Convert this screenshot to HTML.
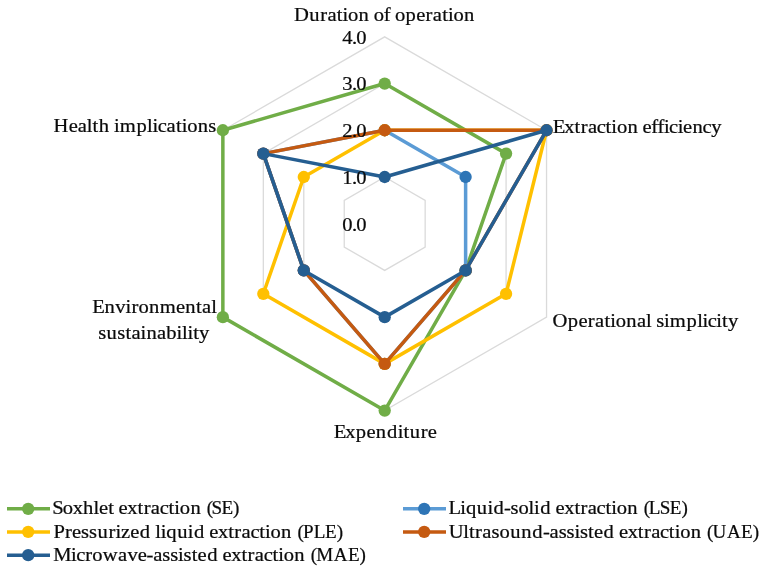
<!DOCTYPE html>
<html lang="en">
<head>
<meta charset="utf-8">
<title>Radar chart of extraction methods</title>
<style>
html,body{margin:0;padding:0;background:#fff;}
body{width:766px;height:569px;overflow:hidden;}
svg{display:block;}
text{font-family:"Liberation Serif",serif;font-size:18.7px;fill:#0a0a0a;stroke:#0a0a0a;stroke-width:0.22px;font-kerning:none;font-variant-ligatures:none;}
</style>
</head>
<body>
<svg width="766" height="569" viewBox="0 0 766 569">
<rect x="0" y="0" width="766" height="569" fill="#ffffff"/>

<g fill="none" stroke="#DADADA" stroke-width="1.3">
<polygon points="384.70,176.98 425.16,200.34 425.16,247.06 384.70,270.42 344.24,247.06 344.24,200.34"/>
<polygon points="384.70,130.26 465.62,176.98 465.62,270.42 384.70,317.14 303.78,270.42 303.78,176.98"/>
<polygon points="384.70,83.54 506.08,153.62 506.08,293.78 384.70,363.86 263.32,293.78 263.32,153.62"/>
<polygon points="384.70,36.82 546.54,130.26 546.54,317.14 384.70,410.58 222.86,317.14 222.86,130.26"/>
</g>
<g>
<polygon points="384.70,83.54 506.08,153.62 465.62,270.42 384.70,410.58 222.86,317.14 222.86,130.26" fill="none" stroke="#70AD47" stroke-width="3.5" stroke-linejoin="round"/>
<circle cx="384.70" cy="83.54" r="6.15" fill="#70AD47"/>
<circle cx="506.08" cy="153.62" r="6.15" fill="#70AD47"/>
<circle cx="465.62" cy="270.42" r="6.15" fill="#70AD47"/>
<circle cx="384.70" cy="410.58" r="6.15" fill="#70AD47"/>
<circle cx="222.86" cy="317.14" r="6.15" fill="#70AD47"/>
<circle cx="222.86" cy="130.26" r="6.15" fill="#70AD47"/>
</g>
<g>
<polygon points="384.70,130.26 465.62,176.98 465.62,270.42 384.70,363.86 303.78,270.42 263.32,153.62" fill="none" stroke="#5B9BD5" stroke-width="3.5" stroke-linejoin="round"/>
<circle cx="384.70" cy="130.26" r="6.15" fill="#2E75B6"/>
<circle cx="465.62" cy="176.98" r="6.15" fill="#2E75B6"/>
<circle cx="465.62" cy="270.42" r="6.15" fill="#2E75B6"/>
<circle cx="384.70" cy="363.86" r="6.15" fill="#2E75B6"/>
<circle cx="303.78" cy="270.42" r="6.15" fill="#2E75B6"/>
<circle cx="263.32" cy="153.62" r="6.15" fill="#2E75B6"/>
</g>
<g>
<polygon points="384.70,130.26 546.54,130.26 506.08,293.78 384.70,363.86 263.32,293.78 303.78,176.98" fill="none" stroke="#FFC000" stroke-width="3.5" stroke-linejoin="round"/>
<circle cx="384.70" cy="130.26" r="6.15" fill="#FFC000"/>
<circle cx="546.54" cy="130.26" r="6.15" fill="#FFC000"/>
<circle cx="506.08" cy="293.78" r="6.15" fill="#FFC000"/>
<circle cx="384.70" cy="363.86" r="6.15" fill="#FFC000"/>
<circle cx="263.32" cy="293.78" r="6.15" fill="#FFC000"/>
<circle cx="303.78" cy="176.98" r="6.15" fill="#FFC000"/>
</g>
<g>
<polygon points="384.70,130.26 546.54,130.26 465.62,270.42 384.70,363.86 303.78,270.42 263.32,153.62" fill="none" stroke="#C55A11" stroke-width="3.5" stroke-linejoin="round"/>
<circle cx="384.70" cy="130.26" r="6.15" fill="#C55A11"/>
<circle cx="546.54" cy="130.26" r="6.15" fill="#C55A11"/>
<circle cx="465.62" cy="270.42" r="6.15" fill="#C55A11"/>
<circle cx="384.70" cy="363.86" r="6.15" fill="#C55A11"/>
<circle cx="303.78" cy="270.42" r="6.15" fill="#C55A11"/>
<circle cx="263.32" cy="153.62" r="6.15" fill="#C55A11"/>
</g>
<g>
<polygon points="384.70,176.98 546.54,130.26 465.62,270.42 384.70,317.14 303.78,270.42 263.32,153.62" fill="none" stroke="#255E91" stroke-width="3.5" stroke-linejoin="round"/>
<circle cx="384.70" cy="176.98" r="6.15" fill="#255E91"/>
<circle cx="546.54" cy="130.26" r="6.15" fill="#255E91"/>
<circle cx="465.62" cy="270.42" r="6.15" fill="#255E91"/>
<circle cx="384.70" cy="317.14" r="6.15" fill="#255E91"/>
<circle cx="303.78" cy="270.42" r="6.15" fill="#255E91"/>
<circle cx="263.32" cy="153.62" r="6.15" fill="#255E91"/>
</g>
<text transform="translate(342.80,43.80) scale(1.1,1)" x="-0.43 8.27 12.30">4.0</text>
<text transform="translate(342.80,90.30) scale(1.1,1)" x="-0.43 8.27 12.30">3.0</text>
<text transform="translate(342.80,137.10) scale(1.1,1)" x="-0.43 8.27 12.30">2.0</text>
<text transform="translate(342.80,183.90) scale(1.1,1)" x="-0.43 8.27 12.30">1.0</text>
<text transform="translate(342.80,230.60) scale(1.1,1)" x="-0.43 8.27 12.30">0.0</text>
<text transform="translate(294.20,20.60) scale(1.1,1)" x="-0.18 13.58 23.61 30.17 38.73 43.97 48.99 58.57 67.96 72.38 81.40 87.13 91.54 101.28 110.97 119.42 125.98 134.54 139.78 144.80 154.38">Duration of operation</text>
<text transform="translate(553.30,132.50) scale(1.1,1)" x="-0.53 10.07 19.30 24.90 31.46 39.47 47.56 52.79 57.82 67.39 76.79 81.16 89.09 94.74 100.55 105.24 113.03 118.01 126.49 135.72 143.68">Extraction efficiency</text>
<text transform="translate(552.70,327.20) scale(1.1,1)" x="-0.08 13.77 23.46 31.91 38.47 47.03 52.27 57.29 66.87 76.57 84.84 89.69 94.11 101.22 106.50 121.70 131.34 136.28 140.97 148.76 153.99 159.40">Operational simplicity</text>
<text transform="translate(334.30,438.20) scale(1.1,1)" x="-0.53 10.07 19.55 29.24 37.72 47.85 57.58 62.82 68.62 78.65 85.03">Expenditure</text>
<text transform="translate(92.90,313.40) scale(1.1,1)" x="-0.53 10.63 20.37 29.71 35.02 41.44 51.01 60.85 75.53 84.01 93.79 99.25 107.51">Environmental</text>
<text transform="translate(98.20,338.70) scale(1.1,1)" x="-0.04 7.64 17.39 24.80 30.25 38.52 43.85 53.56 61.97 71.21 76.15 81.09 86.32 91.73">sustainability</text>
<text transform="translate(53.20,132.10) scale(1.1,1)" x="0.31 14.04 22.34 30.61 35.85 41.47 50.87 55.20 60.49 75.68 85.33 90.27 94.95 102.96 111.53 116.76 121.79 131.36 140.94">Health implications</text>
<line x1="7.0" y1="508.85" x2="50.0" y2="508.85" stroke="#70AD47" stroke-width="3.5"/>
<circle cx="28.2" cy="508.85" r="6.15" fill="#70AD47"/>
<text transform="translate(53.10,514.30) scale(1.1,1)" x="-0.74 8.87 17.88 27.20 36.69 41.67 50.05 55.20 59.57 67.49 76.72 82.32 88.88 96.89 104.98 110.21 115.24 124.81">Soxhlet extraction</text>
<text transform="translate(205.63,514.30) scale(1.02,1)" x="1.11 5.70 15.59 26.92">(SE)</text>
<line x1="7.0" y1="531.95" x2="50.0" y2="531.95" stroke="#FFC000" stroke-width="3.5"/>
<circle cx="28.2" cy="531.95" r="6.15" fill="#FFC000"/>
<text transform="translate(53.50,537.70) scale(1.1,1)" x="-0.07 10.49 16.87 25.05 32.24 39.92 49.95 56.29 61.45 69.76 78.48 88.13 92.46 97.40 102.54 112.41 122.08 127.65 137.30 141.67 149.59 158.81 164.42 170.97 178.99 187.07 192.31 197.33 206.91">Pressurized liquid extraction</text>
<text transform="translate(296.34,537.70) scale(1.02,1)" x="1.11 6.42 17.03 28.21 39.55">(PLE)</text>
<line x1="7.0" y1="555.15" x2="50.0" y2="555.15" stroke="#255E91" stroke-width="3.5"/>
<circle cx="28.2" cy="555.15" r="6.15" fill="#255E91"/>
<text transform="translate(53.50,561.00) scale(1.1,1)" x="-0.29 15.93 20.61 28.77 35.19 44.83 58.75 67.26 76.65 84.58 90.61 98.96 106.16 113.27 118.29 125.70 130.98 139.70 149.35 153.72 161.64 170.86 176.47 183.03 191.04 199.12 204.36 209.39 218.96">Microwave-assisted extraction</text>
<text transform="translate(309.60,561.00) scale(1.02,1)" x="1.11 6.44 23.78 37.53 48.87">(MAE)</text>
<line x1="403.0" y1="508.85" x2="446.0" y2="508.85" stroke="#5B9BD5" stroke-width="3.5"/>
<circle cx="424.2" cy="508.85" r="6.15" fill="#2E75B6"/>
<text transform="translate(449.00,514.30) scale(1.1,1)" x="-0.53 10.24 15.39 25.26 34.92 40.50 50.07 55.97 63.16 72.35 77.28 82.86 92.51 96.88 104.80 114.02 119.62 126.18 134.19 142.28 147.52 152.54 162.12">Liquid-solid extraction</text>
<text transform="translate(642.57,514.30) scale(1.02,1)" x="1.11 5.98 16.88 26.77 38.10">(LSE)</text>
<line x1="403.0" y1="531.95" x2="446.0" y2="531.95" stroke="#C55A11" stroke-width="3.5"/>
<circle cx="424.2" cy="531.95" r="6.15" fill="#C55A11"/>
<text transform="translate(448.80,537.70) scale(1.1,1)" x="-0.15 13.08 18.31 23.92 30.47 38.83 46.02 55.77 65.83 75.95 85.53 91.56 99.91 107.11 114.22 119.24 126.65 131.93 140.65 150.30 154.67 162.59 171.81 177.42 183.98 191.99 200.07 205.31 210.34 219.91">Ultrasound-assisted extraction</text>
<text transform="translate(705.94,537.70) scale(1.02,1)" x="1.11 6.46 20.70 34.46 45.79">(UAE)</text>
</svg>
</body>
</html>
